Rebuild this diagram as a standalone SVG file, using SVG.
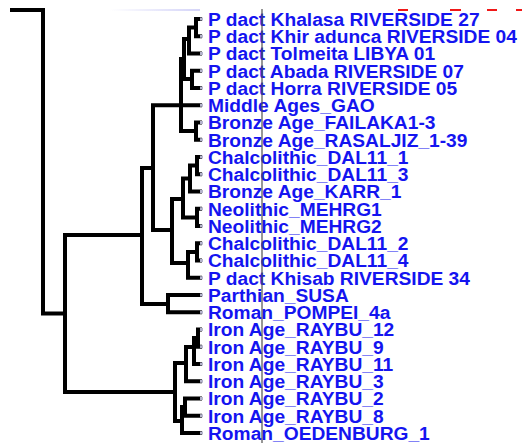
<svg xmlns="http://www.w3.org/2000/svg" width="523" height="443" viewBox="0 0 523 443">
<defs>
<linearGradient id="fade" x1="0" y1="0" x2="1" y2="0">
<stop offset="0" stop-color="#ffffff"/>
<stop offset="1" stop-color="#d4d4f8"/>
</linearGradient>
<style>
.e{fill:none;stroke:#000;stroke-width:4;stroke-linecap:square}
.t{font-family:"Liberation Sans",Arial,sans-serif;font-size:19.2px;font-weight:bold;fill:#1414f0}
.d{fill:#b4b4cc}
</style>
</defs>
<rect width="523" height="443" fill="#fff"/>
<rect x="110" y="9" width="90" height="2" fill="url(#fade)"/>
<g id="red-dashes" fill="#f01818">
<rect x="398" y="9" width="10" height="2"/>
<rect x="450" y="9" width="11" height="2"/>
<rect x="487" y="9" width="10" height="2"/>
<rect x="516" y="9" width="6" height="2"/>
</g>
<g id="connectors">
<path class="e" d="M12 10H43V313.5H65M65 235V392M65 235H142M65 392H175"/>
<path class="e" d="M142 168V304M142 168H153M142 304H168M168 295V312.25M168 295H200M168 312.25H200"/>
<path class="e" d="M153 105.25V230M153 105.25H200M153 230H172"/>
<path class="e" d="M181 59V131M181 59H184M181 131H196M184 39V79M184 39H189M184 79H192M189 27.6V53.5M189 27.6H196M189 53.5H200M196 19V36.25M196 19H200M196 36.25H200M192 70.75V88M192 70.75H200M192 88H200M196 122.5V139.75M196 122.5H200M196 139.75H200"/>
<path class="e" d="M172 199V263M172 199H183M172 263H188M183 178.5V217.4M183 178.5H190M183 217.4H197M190 165.6V191.5M190 165.6H197M190 191.5H200M197 157V174.25M197 157H200M197 174.25H200M197 208.75V226M197 208.75H200M197 226H200M188 251.9V277.75M188 251.9H197M188 277.75H200M197 243.25V260.5M197 243.25H200M197 260.5H200"/>
<path class="e" d="M175 363V421M175 363H186M175 421H182M186 347V381.25M186 347H194M186 381.25H200M194 338V364M194 338H198M194 364H200M198 329.5V346.75M198 329.5H200M198 346.75H200M182 407V433M182 407H185M182 433H200M185 398.5V415.75M185 398.5H200M185 415.75H200"/>
</g>
<g id="ticks">
<rect class="d" x="200" y="17.5" width="3" height="3"/><rect class="d" x="200" y="34.75" width="3" height="3"/><rect class="d" x="200" y="52" width="3" height="3"/><rect class="d" x="200" y="69.25" width="3" height="3"/><rect class="d" x="200" y="86.5" width="3" height="3"/><rect class="d" x="200" y="103.75" width="3" height="3"/><rect class="d" x="200" y="121" width="3" height="3"/><rect class="d" x="200" y="138.25" width="3" height="3"/><rect class="d" x="200" y="155.5" width="3" height="3"/><rect class="d" x="200" y="172.75" width="3" height="3"/><rect class="d" x="200" y="190" width="3" height="3"/><rect class="d" x="200" y="207.25" width="3" height="3"/><rect class="d" x="200" y="224.5" width="3" height="3"/><rect class="d" x="200" y="241.75" width="3" height="3"/><rect class="d" x="200" y="259" width="3" height="3"/><rect class="d" x="200" y="276.25" width="3" height="3"/><rect class="d" x="200" y="293.5" width="3" height="3"/><rect class="d" x="200" y="310.75" width="3" height="3"/><rect class="d" x="200" y="328" width="3" height="3"/><rect class="d" x="200" y="345.25" width="3" height="3"/><rect class="d" x="200" y="362.5" width="3" height="3"/><rect class="d" x="200" y="379.75" width="3" height="3"/><rect class="d" x="200" y="397" width="3" height="3"/><rect class="d" x="200" y="414.25" width="3" height="3"/><rect class="d" x="200" y="431.5" width="3" height="3"/>
</g>
<g id="leaf-01"><text class="t" x="208" y="25.8">P dact Khalasa RIVERSIDE 27</text></g>
<g id="leaf-02"><text class="t" x="208" y="43.05">P dact Khir adunca RIVERSIDE 04</text></g>
<g id="leaf-03"><text class="t" x="208" y="60.3">P dact Tolmeita LIBYA 01</text></g>
<g id="leaf-04"><text class="t" x="208" y="77.55">P dact Abada RIVERSIDE 07</text></g>
<g id="leaf-05"><text class="t" x="208" y="94.8">P dact Horra RIVERSIDE 05</text></g>
<g id="leaf-06"><text class="t" x="208" y="112.05">Middle Ages_GAO</text></g>
<g id="leaf-07"><text class="t" x="208" y="129.3">Bronze Age_FAILAKA1-3</text></g>
<g id="leaf-08"><text class="t" x="208" y="146.55">Bronze Age_RASALJIZ_1-39</text></g>
<g id="leaf-09"><text class="t" x="208" y="163.8">Chalcolithic_DAL11_1</text></g>
<g id="leaf-10"><text class="t" x="208" y="181.05">Chalcolithic_DAL11_3</text></g>
<g id="leaf-11"><text class="t" x="208" y="198.3">Bronze Age_KARR_1</text></g>
<g id="leaf-12"><text class="t" x="208" y="215.55">Neolithic_MEHRG1</text></g>
<g id="leaf-13"><text class="t" x="208" y="232.8">Neolithic_MEHRG2</text></g>
<g id="leaf-14"><text class="t" x="208" y="250.05">Chalcolithic_DAL11_2</text></g>
<g id="leaf-15"><text class="t" x="208" y="267.3">Chalcolithic_DAL11_4</text></g>
<g id="leaf-16"><text class="t" x="208" y="284.55">P dact Khisab RIVERSIDE 34</text></g>
<g id="leaf-17"><text class="t" x="208" y="301.8">Parthian_SUSA</text></g>
<g id="leaf-18"><text class="t" x="208" y="319.05">Roman_POMPEI_4a</text></g>
<g id="leaf-19"><text class="t" x="208" y="336.3">Iron Age_RAYBU_12</text></g>
<g id="leaf-20"><text class="t" x="208" y="353.55">Iron Age_RAYBU_9</text></g>
<g id="leaf-21"><text class="t" x="208" y="370.8">Iron Age_RAYBU_11</text></g>
<g id="leaf-22"><text class="t" x="208" y="388.05">Iron Age_RAYBU_3</text></g>
<g id="leaf-23"><text class="t" x="208" y="405.3">Iron Age_RAYBU_2</text></g>
<g id="leaf-24"><text class="t" x="208" y="422.55">Iron Age_RAYBU_8</text></g>
<g id="leaf-25"><text class="t" x="208" y="439.8">Roman_OEDENBURG_1</text></g>
<line x1="262" y1="9" x2="262" y2="443" stroke="#505050" stroke-width="1.2"/>
</svg>
